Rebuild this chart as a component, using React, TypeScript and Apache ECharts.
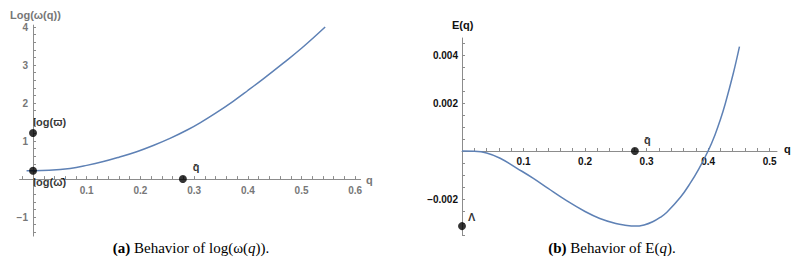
import React, { useEffect, useRef } from "react";
import * as echarts from "echarts";

// ---- Panel (a): log(omega(q)) ----
const qA = [-0.012, 0, 0.03, 0.069, 0.1, 0.131, 0.16, 0.193, 0.225, 0.255, 0.287, 0.311, 0.34, 0.372, 0.4, 0.43, 0.466, 0.5, 0.544];
const logOmega = [0.22, 0.22, 0.23, 0.28, 0.36, 0.46, 0.575, 0.72, 0.89, 1.07, 1.29, 1.48, 1.735, 2.04, 2.33, 2.65, 3.05, 3.44, 4.0];
const pointsA = [
  { q: 0, v: 1.21, label: "log(ϖ)", offset: [-9, -11] },
  { q: 0, v: 0.22, label: "log(ω̄)", offset: [-9, 11] },
  { q: 0.279, v: 0, label: "q̄", offset: [1, -12] },
];
const xLabelsA = [0.1, 0.2, 0.3, 0.4, 0.5, 0.6];
const yLabelsA = [-1, 1, 2, 3, 4];

// ---- Panel (b): E(q) ----
const qB = [0, 0.02, 0.04, 0.062, 0.09, 0.116, 0.14, 0.17, 0.2, 0.224, 0.25, 0.265, 0.281, 0.296, 0.31, 0.322, 0.333, 0.355, 0.371, 0.385, 0.4, 0.411, 0.42, 0.428, 0.441, 0.451];
const eValues = [0, -0.00001, -0.00008, -0.0003, -0.00073, -0.00114, -0.00156, -0.00207, -0.00252, -0.00281, -0.00302, -0.00309, -0.00313, -0.00308, -0.00295, -0.00277, -0.00255, -0.00193, -0.00134, -0.00074, 0, 0.00066, 0.00131, 0.00198, 0.00324, 0.00435];
const pointsB = [
  { q: 0.281, v: 0, label: "q̄", offset: [0, -11] },
  { q: 0, v: -0.00313, label: "Λ", offset: [-3, -9] },
];
const xLabelsB = [0.1, 0.2, 0.3, 0.4, 0.5];
const yLabelsB = [-0.002, 0.002, 0.004];

const steps = (from: number, to: number, step: number) => {
  const out: number[] = [];
  const n = Math.round((to - from) / step);
  for (let i = 0; i <= n; i++) out.push(Math.round((from + i * step) * 1e7) / 1e7);
  return out;
};

const FONT = "'Liberation Sans', Arial, sans-serif";
const SERIF = "'Liberation Serif', 'Times New Roman', serif";
const CURVE = "#5E81B5";
const AXIS = "#8c8c8c";
const fmt = (v: number) => String(v).replace("-", "\u2212");

export default function App() {
  const ref = useRef<HTMLDivElement>(null);
  useEffect(() => {
    if (!ref.current) return;
    const chart = echarts.init(ref.current, undefined, { renderer: "svg" });
    const axis = (color: string, ticks: number[], labels: number[], margin: number, extra: any) => ({
      type: "value",
      axisLine: { onZero: false, lineStyle: { color: AXIS, width: 1 } },
      splitLine: { show: false },
      axisTick: { inside: true, length: 3, lineStyle: { color: AXIS }, customValues: ticks },
      axisLabel: {
        color,
        fontFamily: FONT,
        fontWeight: "bold",
        fontSize: 10,
        formatter: fmt,
        customValues: labels,
        margin,
      },
      ...extra,
    });
    const dots = (pts: any[]) =>
      pts.map((p) => ({
        value: [p.q, p.v],
        label: {
          show: true,
          formatter: p.label,
          position: "right",
          offset: p.offset,
          color: "#000",
          fontFamily: FONT,
          fontWeight: "bold",
          fontSize: 11,
        },
      }));
    const caption = (x: number, text: string) => ({
      type: "text",
      x,
      y: 248,
      style: {
        text,
        align: "center",
        verticalAlign: "middle",
        fill: "#000",
        font: `15px ${SERIF}`,
        rich: {
          b: { fontWeight: "bold", fontSize: 15, fontFamily: SERIF },
          i: { fontStyle: "italic", fontSize: 15, fontFamily: SERIF },
        },
      },
    });
    const option: any = {
      animation: false,
      grid: [
        { left: 19.6, top: 25.1, width: 341, height: 211, containLabel: false },
        { left: 462, top: 38, width: 315, height: 197, containLabel: false },
      ],
      xAxis: [
        axis("#777", steps(-0.02, 0.6, 0.02), xLabelsA, 6, {
          gridIndex: 0, min: -0.025, max: 0.61, position: "bottom", offset: -57,
        }),
        axis("#111", steps(0.02, 0.5, 0.02), xLabelsB, 5, {
          gridIndex: 1, min: 0, max: 0.512, position: "bottom", offset: -84,
        }),
      ],
      yAxis: [
        axis("#777", steps(-1.4, 4.0, 0.2), yLabelsA, 5, {
          gridIndex: 0, min: -1.5, max: 4.05, position: "left", offset: -13.4,
        }),
        axis("#111", steps(-0.0035, 0.0045, 0.0005), yLabelsB, 4, {
          gridIndex: 1, min: -0.0035, max: 0.00471, position: "left", offset: 0,
        }),
      ],
      series: [
        {
          type: "line",
          xAxisIndex: 0,
          yAxisIndex: 0,
          data: qA.map((q, i) => [q, logOmega[i]]),
          showSymbol: false,
          smooth: 0.4,
          lineStyle: { color: CURVE, width: 1.5 },
          z: 3,
        },
        {
          type: "scatter",
          xAxisIndex: 0,
          yAxisIndex: 0,
          symbolSize: 8,
          itemStyle: { color: "#000" },
          data: dots(pointsA),
          z: 5,
        },
        {
          type: "line",
          xAxisIndex: 1,
          yAxisIndex: 1,
          data: qB.map((q, i) => [q, eValues[i]]),
          showSymbol: false,
          smooth: 0.4,
          lineStyle: { color: CURVE, width: 1.5 },
          z: 3,
        },
        {
          type: "scatter",
          xAxisIndex: 1,
          yAxisIndex: 1,
          symbolSize: 8,
          itemStyle: { color: "#000" },
          data: dots(pointsB),
          z: 5,
        },
      ],
      graphic: [
        { type: "text", left: 10, top: 9, style: { text: "Log(ω(q))", fill: "#777", font: `bold 11px ${FONT}` } },
        { type: "text", left: 366, top: 174, style: { text: "q", fill: "#777", font: `bold 11px ${FONT}` } },
        { type: "text", left: 452, top: 19, style: { text: "E(q)", fill: "#111", font: `bold 11px ${FONT}` } },
        { type: "text", left: 784, top: 143, style: { text: "q", fill: "#111", font: `bold 11px ${FONT}` } },
        caption(191, "{b|(a)} Behavior of log(ω({i|q}))."),
        caption(612, "{b|(b)} Behavior of E({i|q})."),
      ],
    };
    chart.setOption(option);
    return () => chart.dispose();
  }, []);
  return <div ref={ref} style={{ width: 794, height: 265, position: "absolute", left: 0, top: 0, background: "#fff" }} />;
}
